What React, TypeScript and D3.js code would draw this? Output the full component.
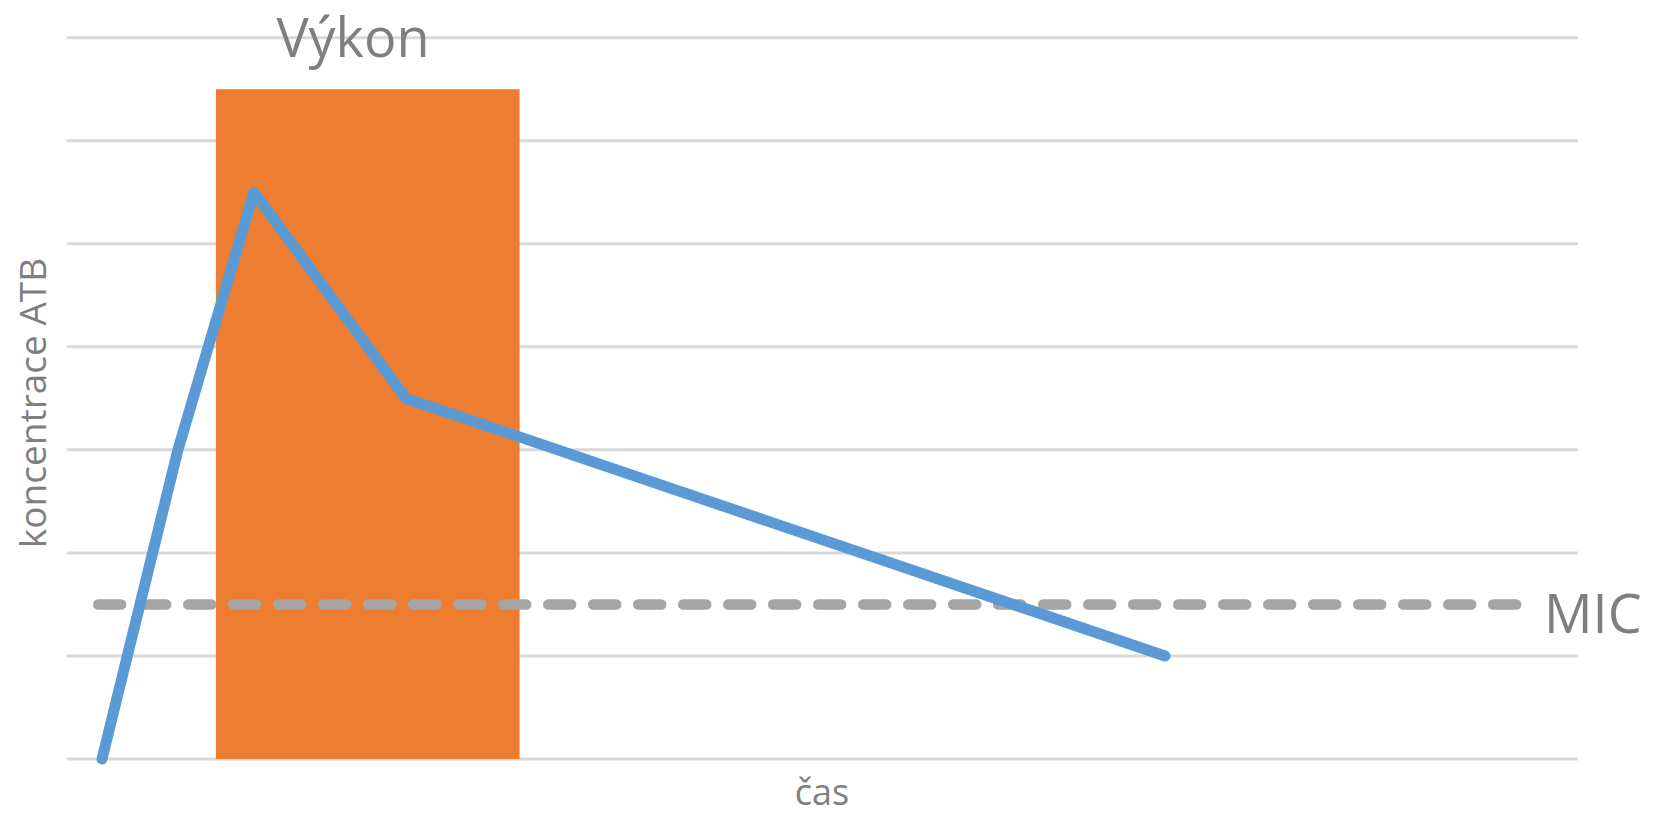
import React, { useEffect, useRef } from 'react';
import * as d3 from 'd3';

// concentration curve (time units, concentration units)
const timePoints = [0, 1, 2, 4, 7, 10, 14];
const concentration = [0, 3, 5.5, 3.5, 2.75, 2, 1];

// "Výkon" window shown as an orange block
const procedureStart = 1.5;
const procedureEnd = 5.5;
const procedureLevel = 6.5;

// MIC threshold
const micLevel = 1.5;
const micFrom = -0.05;
const micTo = 18.8;

const gridValues = [0, 1, 2, 3, 4, 5, 6, 7];

const width = 1653;
const height = 817;

export default function App() {
  const svgRef = useRef<SVGSVGElement>(null);

  useEffect(() => {
    if (!svgRef.current) return;
    const svg = d3.select(svgRef.current);
    svg.selectAll('*').remove();

    const x = d3.scaleLinear().domain([0, 14]).range([102, 1165]);
    const y = d3.scaleLinear().domain([0, 7]).range([759, 37.7]);
    const gridLeft = 66.7;
    const gridRight = 1578;
    const font = '"Open Sans", "DejaVu Sans", sans-serif';
    const textColor = '#7f7f7f';

    // gridlines
    svg.append('g')
      .selectAll('line')
      .data(gridValues)
      .enter().append('line')
      .attr('x1', gridLeft)
      .attr('x2', gridRight)
      .attr('y1', d => y(d))
      .attr('y2', d => y(d))
      .attr('stroke', '#d9d9d9')
      .attr('stroke-width', 3);

    // procedure block
    svg.append('rect')
      .attr('x', x(procedureStart))
      .attr('y', y(procedureLevel))
      .attr('width', x(procedureEnd) - x(procedureStart))
      .attr('height', y(0) - y(procedureLevel))
      .attr('fill', '#ed7d31');

    // MIC dashed line
    svg.append('line')
      .attr('x1', x(micFrom))
      .attr('x2', x(micTo))
      .attr('y1', y(micLevel))
      .attr('y2', y(micLevel))
      .attr('stroke', '#a5a5a5')
      .attr('stroke-width', 10.5)
      .attr('stroke-linecap', 'round')
      .attr('stroke-dasharray', '23 22');

    // concentration line
    const line = d3.line<number>()
      .x((_, i) => x(timePoints[i]))
      .y(d => y(d));

    svg.append('path')
      .datum(concentration)
      .attr('d', line)
      .attr('fill', 'none')
      .attr('stroke', '#5b9bd5')
      .attr('stroke-width', 11)
      .attr('stroke-linejoin', 'round')
      .attr('stroke-linecap', 'round');

    // labels
    svg.append('text')
      .attr('x', 353)
      .attr('y', 57)
      .attr('text-anchor', 'middle')
      .style('font-family', font)
      .style('font-size', '54px')
      .attr('fill', textColor)
      .text('Výkon');

    svg.append('text')
      .attr('x', 1544)
      .attr('y', 633)
      .style('font-family', font)
      .style('font-size', '54px')
      .attr('fill', textColor)
      .text('MIC');

    svg.append('text')
      .attr('x', 822)
      .attr('y', 805)
      .attr('text-anchor', 'middle')
      .style('font-family', font)
      .style('font-size', '36px')
      .attr('fill', textColor)
      .text('čas');

    svg.append('text')
      .attr('transform', 'translate(46,403) rotate(-90)')
      .attr('text-anchor', 'middle')
      .style('font-family', font)
      .style('font-size', '37px')
      .attr('fill', textColor)
      .text('koncentrace ATB');
  }, []);

  return (
    <svg
      ref={svgRef}
      width={width}
      height={height}
      style={{ position: 'fixed', left: 0, top: 0, background: '#fff' }}
    />
  );
}
